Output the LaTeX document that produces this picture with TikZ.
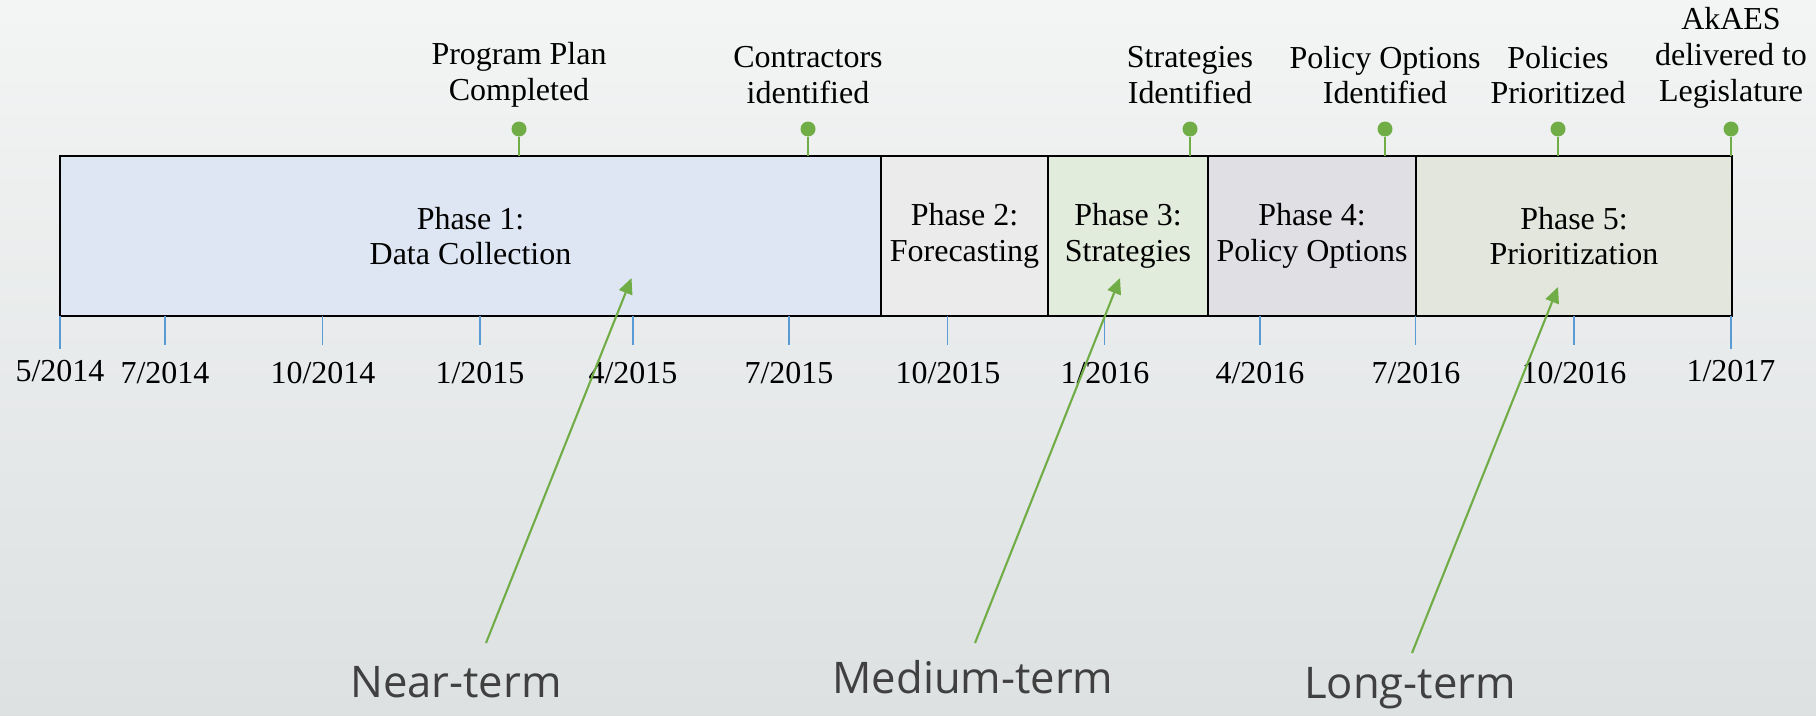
\documentclass[tikz,border=0pt]{standalone}
\usepackage{fontspec}
\setmainfont{Liberation Serif}
\newfontfamily\termfont{Open Sans}
\usetikzlibrary{positioning,arrows.meta}

\definecolor{bgtop}{HTML}{F3F4F4}
\definecolor{bgbottom}{HTML}{DDE1E2}
\definecolor{msgreen}{HTML}{70AD47}
\definecolor{tickblue}{HTML}{5B9BD5}
\definecolor{termgray}{HTML}{404040}
\definecolor{fillone}{HTML}{DFE6F3}
\definecolor{filltwo}{HTML}{EBEBEB}
\definecolor{fillthree}{HTML}{E2ECDC}
\definecolor{fillfour}{HTML}{E0DFE4}
\definecolor{fillfive}{HTML}{E3E6DD}

\tikzset{
  phase/.style={draw=black, line width=0.7pt, inner sep=0pt, outer sep=0pt,
    minimum height=1.6cm, align=center, font=\fontsize{9.1}{10.2}\selectfont},
  datelabel/.style={font=\fontsize{9.1}{10.2}\selectfont},
  mtext/.style={align=center, font=\fontsize{9.1}{10.2}\selectfont},
  dot/.style={circle, fill=msgreen, inner sep=0pt, minimum size=0.15cm},
  stem/.style={msgreen, line width=0.6pt},
  axistick/.style={tickblue, line width=0.5pt},
  term/.style={text=termgray, font=\termfont\fontsize{12.4}{14}\selectfont},
  termarrow/.style={msgreen, line width=0.6pt, -{Triangle[length=4.5pt,width=4pt]}}
}

\begin{document}
\begin{tikzpicture}
            % background
            \shade[top color=bgtop, bottom color=bgbottom] (0,0) rectangle (18.16,7.15);
            \useasboundingbox (0,0) rectangle (18.16,7.15);

            % phases
            \node[phase, fill=fillone, minimum width=8.21cm] (p1) at (4.705,4.79) {Phase 1:\\Data Collection};
            \node[phase, fill=filltwo, minimum width=1.67cm] (p2) at (9.645,4.79) {Phase 2:\\Forecasting};
            \node[phase, fill=fillthree, minimum width=1.60cm] (p3) at (11.28,4.79) {Phase 3:\\Strategies};
            \node[phase, fill=fillfour, minimum width=2.08cm] (p4) at (13.12,4.79) {Phase 4:\\Policy Options};
            \node[phase, fill=fillfive, minimum width=3.16cm] (p5) at (15.74,4.79) {Phase 5:\\Prioritization};

            % time axis
            \draw[axistick] (0.603,3.99) -- (0.603,3.66);
            \draw[axistick] (17.313,3.99) -- (17.313,3.66);
            \foreach \x in {1.653,3.226,4.799,6.332,7.888,9.475,11.045,12.597,14.155,15.743}
              \draw[axistick] (\x,3.99) -- (\x,3.70);

            \node[datelabel] (d1) at (0.60,3.44) {5/2014};
            \node[datelabel] (d2) at (1.65,3.42) {7/2014};
            \node[datelabel] (d3) at (3.23,3.42) {10/2014};
            \node[datelabel] (d4) at (4.80,3.42) {1/2015};
            \node[datelabel] (d5) at (6.33,3.42) {4/2015};
            \node[datelabel] (d6) at (7.89,3.42) {7/2015};
            \node[datelabel] (d7) at (9.48,3.42) {10/2015};
            \node[datelabel] (d8) at (11.05,3.42) {1/2016};
            \node[datelabel] (d9) at (12.60,3.42) {4/2016};
            \node[datelabel] (d10) at (14.16,3.42) {7/2016};
            \node[datelabel] (d11) at (15.74,3.42) {10/2016};
            \node[datelabel] (d12) at (17.31,3.44) {1/2017};

            % milestones
            \node[dot] (m1) at (5.19,5.86) {};
            \node[dot] (m2) at (8.08,5.86) {};
            \node[dot] (m3) at (11.90,5.86) {};
            \node[dot] (m4) at (13.85,5.86) {};
            \node[dot] (m5) at (15.58,5.86) {};
            \node[dot] (m6) at (17.31,5.86) {};

            \draw[stem] (m1) -- (m1 |- p1.north);
            \draw[stem] (m2) -- (m2 |- p1.north);
            \draw[stem] (m3) -- (m3 |- p3.north);
            \draw[stem] (m4) -- (m4 |- p4.north);
            \draw[stem] (m5) -- (m5 |- p5.north);
            \draw[stem] (m6) -- (m6 |- p5.north);

            \node[mtext] (t1) at (5.19,6.40) {Program Plan\\Completed};
            \node[mtext] (t2) at (8.08,6.40) {Contractors\\identified};
            \node[mtext] (t3) at (11.90,6.40) {Strategies\\Identified};
            \node[mtext] (t4) at (13.85,6.40) {Policy Options\\Identified};
            \node[mtext] (t5) at (15.58,6.40) {Policies\\Prioritized};
            \node[mtext] (t6) at (17.31,6.57) {AkAES\\delivered to\\Legislature};

            % horizons
            \node[term] (near) at (4.56,0.33) {Near-term};
            \node[term] (medium) at (9.73,0.38) {Medium-term};
            \node[term] (long) at (14.10,0.27) {Long-term};

            \coordinate (nearfoot) at (4.86,0.72);
            \coordinate (neartip) at (6.315,4.37);
            \coordinate (mediumfoot) at (9.75,0.72);
            \coordinate (mediumtip) at (11.20,4.37);
            \coordinate (longfoot) at (14.12,0.62);
            \coordinate (longtip) at (15.58,4.28);

            \draw[termarrow] (nearfoot) -- (neartip);
            \draw[termarrow] (mediumfoot) -- (mediumtip);
            \draw[termarrow] (longfoot) -- (longtip);
        \end{tikzpicture}
\end{document}
